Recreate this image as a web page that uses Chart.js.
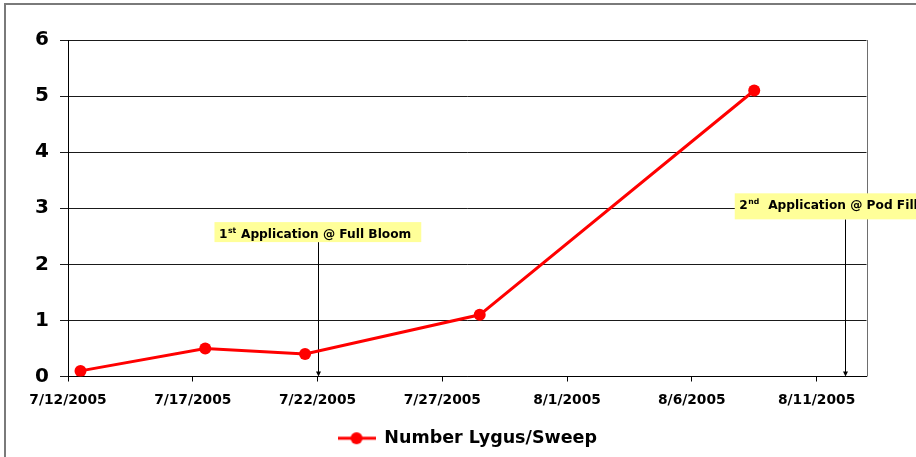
<!DOCTYPE html>
<html>
<head>
<meta charset="utf-8">
<script src="https://cdn.jsdelivr.net/npm/chart.js@4/dist/chart.umd.min.js"></script>
<style>
  html, body { margin: 0; padding: 0; background: #ffffff; }
  #wrap { width: 916px; height: 457px; position: relative; overflow: hidden; }
  canvas { display: block; }
</style>
</head>
<body>
<div id="wrap"><canvas id="chart" width="916" height="457"></canvas></div>
<script>
// Sweep-net counts, days counted from 7/12/2005
const seriesName = 'Number Lygus/Sweep';
const sampleDays = [0.5, 5.5, 9.5, 16.5, 27.5];
const lygusPerSweep = [0.1, 0.5, 0.4, 1.1, 5.1];

// Axis ranges and tick spacing
const xStartDate = [2005, 7, 12];
const xDayRange = [0, 32];
const xTickStep = 5;
const yRange = [0, 6];
const yTickStep = 1;

// Spray applications
const applicationDays = [10, 31.15];
const applicationOrdinals = ['1', '2'];
const applicationSuffixes = ['st', 'nd'];
const applicationTexts = [' Application @ Full Bloom', '  Application @ Pod Fill'];

// Note layout (box anchor in axis units, box height in px)
const noteBoxLeftDays = [5.87, 26.72];
const noteBoxTopValues = [2.753, 3.266];
const noteBoxHeights = [20, 26];

const lineColor = '#ff0000';
const fontFamily = '"DejaVu Sans", "Liberation Sans", Arial, sans-serif';

function dayLabel(d) {
  const dt = new Date(xStartDate[0], xStartDate[1] - 1, xStartDate[2] + d);
  return (dt.getMonth() + 1) + '/' + dt.getDate() + '/' + dt.getFullYear();
}

function legendMarker() {
  const c = document.createElement('canvas');
  c.width = 38; c.height = 14;
  const g = c.getContext('2d');
  g.strokeStyle = lineColor;
  g.lineWidth = 3;
  g.beginPath(); g.moveTo(0, 7); g.lineTo(38, 7); g.stroke();
  g.fillStyle = lineColor;
  g.beginPath(); g.arc(19, 7, 6, 0, Math.PI * 2); g.fill();
  return c;
}
const marker = legendMarker();

// Outer frame, plot right edge, application arrows and note boxes
const overlay = {
  id: 'overlay',
  beforeDraw(chart) {
    const ctx = chart.ctx;
    ctx.save();
    ctx.fillStyle = '#ffffff';
    ctx.fillRect(0, 0, chart.width, chart.height);
    ctx.strokeStyle = '#7a7a7a';
    ctx.lineWidth = 2;
    ctx.strokeRect(5, 4, chart.width + 40, chart.height + 40);
    ctx.restore();
  },
  beforeDatasetsDraw(chart) {
    const ctx = chart.ctx;
    const xs = chart.scales.x, ys = chart.scales.y;
    const area = chart.chartArea;
    ctx.save();
    // plot area right edge
    ctx.strokeStyle = '#6e6e6e';
    ctx.lineWidth = 1;
    const rx = Math.round(area.right) + 0.5;
    ctx.beginPath(); ctx.moveTo(rx, area.top); ctx.lineTo(rx, area.bottom); ctx.stroke();

    for (let i = 0; i < applicationDays.length; i++) {
      const ax = Math.round(xs.getPixelForValue(applicationDays[i])) + 0.5;
      const bx = xs.getPixelForValue(noteBoxLeftDays[i]);
      const by = ys.getPixelForValue(noteBoxTopValues[i]);
      const bh = noteBoxHeights[i];
      const bottom = ys.getPixelForValue(0);

      // arrow
      ctx.strokeStyle = '#000000';
      ctx.lineWidth = 1;
      ctx.beginPath(); ctx.moveTo(ax, by + bh); ctx.lineTo(ax, bottom - 3); ctx.stroke();
      ctx.fillStyle = '#000000';
      ctx.beginPath();
      ctx.moveTo(ax - 2.5, bottom - 5);
      ctx.lineTo(ax + 2.5, bottom - 5);
      ctx.lineTo(ax, bottom);
      ctx.closePath(); ctx.fill();

      // text widths
      const mainFont = 'bold 12.2px ' + fontFamily;
      const supFont = 'bold 7.7px ' + fontFamily;
      ctx.font = mainFont;
      const w1 = ctx.measureText(applicationOrdinals[i]).width;
      const w3 = ctx.measureText(applicationTexts[i]).width;
      ctx.font = supFont;
      const w2 = ctx.measureText(applicationSuffixes[i]).width;
      const bw = 4.5 + w1 + w2 + 1 + w3 + 10;

      ctx.fillStyle = '#ffff99';
      ctx.fillRect(bx, by, bw, bh);

      const base = by + 15.5;
      let tx = bx + 4.5;
      ctx.fillStyle = '#000000';
      ctx.textBaseline = 'alphabetic';
      ctx.textAlign = 'left';
      ctx.font = mainFont;
      ctx.fillText(applicationOrdinals[i], tx, base);
      tx += w1;
      ctx.font = supFont;
      ctx.fillText(applicationSuffixes[i], tx + 0.5, base - 4.5);
      tx += w2 + 1;
      ctx.font = mainFont;
      ctx.fillText(applicationTexts[i], tx, base);
    }
    ctx.restore();
  }
};

const points = sampleDays.map((d, i) => ({ x: d, y: lygusPerSweep[i] }));

new Chart(document.getElementById('chart'), {
  type: 'line',
  data: {
    datasets: [{
      label: seriesName,
      data: points,
      borderColor: lineColor,
      backgroundColor: lineColor,
      borderWidth: 3,
      pointRadius: 6,
      pointHoverRadius: 6,
      pointBackgroundColor: lineColor,
      pointBorderWidth: 0,
      pointStyle: 'circle',
      tension: 0,
      fill: false
    }]
  },
  options: {
    responsive: false,
    devicePixelRatio: 1,
    animation: false,
    events: [],
    layout: { padding: { left: 0, top: 40, right: 49.5, bottom: 0 } },
    scales: {
      x: {
        type: 'linear',
        min: xDayRange[0],
        max: xDayRange[1],
        afterFit(scale) { scale.height = 43; },
        ticks: {
          stepSize: xTickStep,
          includeBounds: false,
          autoSkip: false,
          maxRotation: 0,
          padding: 11,
          color: '#000000',
          font: { family: fontFamily, size: 13.8, weight: 'bold' },
          callback: (v) => dayLabel(v)
        },
        grid: { drawOnChartArea: false, drawTicks: true, tickLength: 5, color: '#000000', lineWidth: 1 },
        border: { color: '#000000', width: 1 }
      },
      y: {
        min: yRange[0],
        max: yRange[1],
        afterFit(scale) { scale.width = 68; },
        ticks: {
          stepSize: yTickStep,
          padding: 11,
          color: '#000000',
          font: { family: fontFamily, size: 20, weight: 'bold' }
        },
        grid: { color: '#1a1a1a', lineWidth: 1, tickLength: 8, drawTicks: true },
        border: { color: '#000000', width: 1 }
      }
    },
    plugins: {
      tooltip: { enabled: false },
      legend: {
        position: 'bottom',
        fullSize: false,
        labels: {
          usePointStyle: true,
          pointStyleWidth: 38,
          color: '#000000',
          padding: 10,
          font: { family: fontFamily, size: 17.5, weight: 'bold', lineHeight: 0.9 },
          generateLabels(chart) {
            return Chart.defaults.plugins.legend.labels.generateLabels(chart)
              .map(l => Object.assign(l, { pointStyle: marker }));
          }
        }
      }
    }
  },
  plugins: [overlay]
});
</script>
</body>
</html>
